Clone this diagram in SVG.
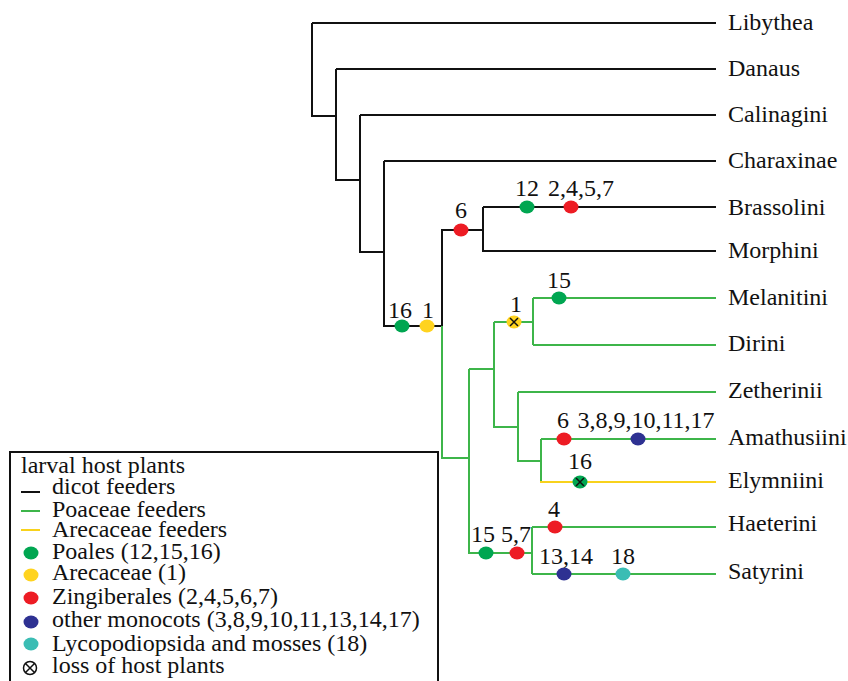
<svg xmlns="http://www.w3.org/2000/svg" width="848" height="681" viewBox="0 0 848 681">
<defs>
<ellipse id="dot" cx="0" cy="0" rx="7.5" ry="6.5"/>
<path id="cross" d="M-4,-4L4,4M4,-4L-4,4" stroke="#111" stroke-width="1.5"/>
</defs>
<rect width="848" height="681" fill="#fff"/>
<g id="connectors" fill="none" stroke-width="2">
<path stroke="#111" d="M312,23H716M312,23V116H336M336,69H716M336,69V180H360M360,115H716M360,115V252H384M384,161H716M384,161V326H442M442,326V230H483M483,207H716M483,207V251H716"/>
<path stroke="#3db54a" d="M442,326V458H469M469,369V553H532M469,369H494M494,322V427H518M494,322H533M533,298V345M533,298H716M533,345H716M518,392V461H541M518,392H716M541,439V482M541,439H716M532,527V574M532,527H716M532,574H716"/>
<path stroke="#f8d21c" d="M540,482H716"/>
</g>
<g id="tips" font-family="Liberation Serif" font-size="24" fill="#111">
<text x="728" y="30">Libythea</text>
<text x="728" y="76">Danaus</text>
<text x="728" y="122">Calinagini</text>
<text x="728" y="168">Charaxinae</text>
<text x="728" y="215">Brassolini</text>
<text x="728" y="258">Morphini</text>
<text x="728" y="305">Melanitini</text>
<text x="728" y="351">Dirini</text>
<text x="728" y="398">Zetherinii</text>
<text x="728" y="445">Amathusiini</text>
<text x="728" y="488">Elymniini</text>
<text x="728" y="531">Haeterini</text>
<text x="728" y="579">Satyrini</text>
</g>
<g id="events">
<use href="#dot" x="527" y="207" fill="#00a651"/>
<use href="#dot" x="571" y="207" fill="#ed1c24"/>
<use href="#dot" x="461" y="230" fill="#ed1c24"/>
<use href="#dot" x="402" y="326" fill="#00a651"/>
<use href="#dot" x="427" y="326" fill="#ffd31f"/>
<use href="#dot" x="559" y="298" fill="#00a651"/>
<use href="#dot" x="514" y="322" fill="#ffd31f"/>
<use href="#cross" x="514" y="322"/>
<use href="#dot" x="564" y="439" fill="#ed1c24"/>
<use href="#dot" x="638" y="439" fill="#2e3192"/>
<use href="#dot" x="580" y="482" fill="#00a651"/>
<use href="#cross" x="580" y="482"/>
<use href="#dot" x="555" y="527" fill="#ed1c24"/>
<use href="#dot" x="486" y="553" fill="#00a651"/>
<use href="#dot" x="517" y="553" fill="#ed1c24"/>
<use href="#dot" x="564" y="574" fill="#2e3192"/>
<use href="#dot" x="623" y="574" fill="#3bbdb4"/>
</g>
<g id="labels" font-family="Liberation Serif" font-size="24" fill="#111" text-anchor="middle">
<text x="527" y="196">12</text>
<text x="581" y="196">2,4,5,7</text>
<text x="461" y="218">6</text>
<text x="400" y="318">16</text>
<text x="428" y="318">1</text>
<text x="559" y="288">15</text>
<text x="516" y="312">1</text>
<text x="563" y="428">6</text>
<text x="646" y="428">3,8,9,10,11,17</text>
<text x="580" y="469">16</text>
<text x="554" y="517">4</text>
<text x="483" y="542">15</text>
<text x="516" y="542">5,7</text>
<text x="566" y="564">13,14</text>
<text x="623" y="564">18</text>
</g>
<g id="legend">
<rect x="10" y="452" width="428" height="240" fill="none" stroke="#111" stroke-width="2"/>
<g font-family="Liberation Serif" font-size="24" fill="#111">
<text x="21" y="473">larval host plants</text>
<text x="52" y="494">dicot feeders</text>
<text x="52" y="517">Poaceae feeders</text>
<text x="52" y="537">Arecaceae feeders</text>
<text x="52" y="559">Poales (12,15,16)</text>
<text x="52" y="580">Arecaceae (1)</text>
<text x="52" y="604">Zingiberales (2,4,5,6,7)</text>
<text x="52" y="627">other monocots (3,8,9,10,11,13,14,17)</text>
<text x="52" y="651">Lycopodiopsida and mosses (18)</text>
<text x="52" y="673">loss of host plants</text>
</g>
<g fill="none" stroke-width="2">
<path stroke="#111" d="M21,492H40"/>
<path stroke="#3db54a" d="M21,511H40"/>
<path stroke="#f8d21c" d="M21,530H40"/>
</g>
<use href="#dot" x="31" y="553" fill="#00a651"/>
<use href="#dot" x="31" y="575" fill="#ffd31f"/>
<use href="#dot" x="31" y="598" fill="#ed1c24"/>
<use href="#dot" x="31" y="622" fill="#2e3192"/>
<use href="#dot" x="31" y="644" fill="#3bbdb4"/>
<circle cx="30" cy="668" r="6.5" fill="#fff" stroke="#111" stroke-width="1.5"/>
<path d="M25.5,663.5L34.5,672.5M34.5,663.5L25.5,672.5" stroke="#111" stroke-width="1.5"/>
</g>
</svg>
